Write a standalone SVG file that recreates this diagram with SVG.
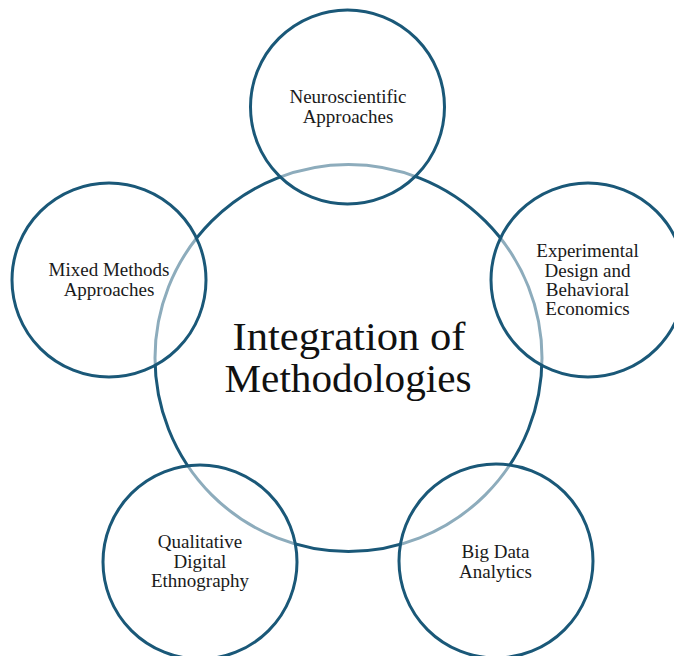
<svg xmlns="http://www.w3.org/2000/svg" width="674" height="656" viewBox="0 0 674 656">
  <style>
    .ring { fill: #ffffff; fill-opacity: 0.5; stroke: #1a5878; stroke-width: 3; }
    .hub { fill: #ffffff; stroke: #1a5878; stroke-width: 3; }
    .label { font-family: "Liberation Serif", "DejaVu Serif", serif; font-size: 19px; fill: #1a1a1a; text-anchor: middle; }
    .title { font-family: "Liberation Serif", "DejaVu Serif", serif; font-size: 40px; fill: #111111; text-anchor: middle; }
  </style>
  <rect width="674" height="656" fill="#ffffff"/>

  <!-- central topic -->
  <g id="hub">
    <circle class="hub" cx="348.5" cy="358" r="193.5"/>
    <text class="title" x="349" y="350" textLength="233" lengthAdjust="spacingAndGlyphs">Integration of</text>
    <text class="title" x="348" y="392" textLength="247" lengthAdjust="spacingAndGlyphs">Methodologies</text>
  </g>

  <!-- connectors: none, the satellites overlap the hub directly -->
  <g id="connectors"></g>

  <g id="neuro">
    <circle class="ring" cx="347.5" cy="107" r="97"/>
    <text class="label" x="348" y="103">Neuroscientific</text>
    <text class="label" x="348" y="123">Approaches</text>
  </g>

  <g id="experimental">
    <circle class="ring" cx="588" cy="280" r="97"/>
    <text class="label" x="587.5" y="257">Experimental</text>
    <text class="label" x="587.5" y="277">Design and</text>
    <text class="label" x="587.5" y="296">Behavioral</text>
    <text class="label" x="587.5" y="315">Economics</text>
  </g>

  <g id="bigdata">
    <circle class="ring" cx="496" cy="561" r="97"/>
    <text class="label" x="495.5" y="558">Big Data</text>
    <text class="label" x="495.5" y="578">Analytics</text>
  </g>

  <g id="qualitative">
    <circle class="ring" cx="200" cy="562" r="97"/>
    <text class="label" x="200" y="548">Qualitative</text>
    <text class="label" x="200" y="568">Digital</text>
    <text class="label" x="200" y="587">Ethnography</text>
  </g>

  <g id="mixed">
    <circle class="ring" cx="109" cy="280" r="97"/>
    <text class="label" x="109" y="276">Mixed Methods</text>
    <text class="label" x="109" y="296">Approaches</text>
  </g>
</svg>
